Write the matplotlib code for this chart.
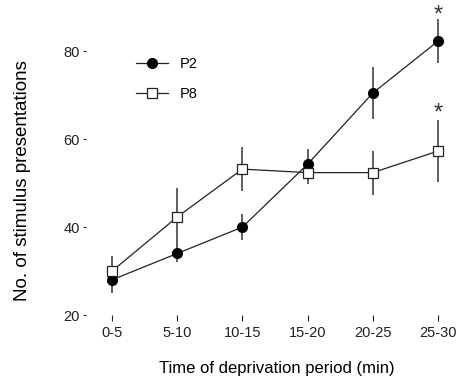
import numpy as np
import matplotlib.pyplot as plt

plt.rcParams['font.family'] = ['Liberation Sans', 'DejaVu Sans']

periods = ['0-5', '5-10', '10-15', '15-20', '20-25', '25-30']
p2_mean = [28, 34, 40, 54.3, 70.5, 82.3]
p2_err = [3, 2, 3, 3.5, 6, 5]
p8_mean = [30, 42.3, 53.2, 52.4, 52.4, 57.3]
p8_err = [3.5, 6.5, 5, 2.5, 5, 7]
star_y = [88.2, 65.9]  # asterisk positions over 25-30

x = np.arange(len(periods))

fig = plt.figure(figsize=(4.57, 3.83), dpi=100)
ax = fig.add_axes([0.188, 0.1775, 0.801, 0.809])

ax.errorbar(x, p2_mean, yerr=p2_err, fmt='none', ecolor='#444444', elinewidth=1.2, capsize=0, zorder=1)
ax.errorbar(x, p8_mean, yerr=p8_err, fmt='none', ecolor='#444444', elinewidth=1.2, capsize=0, zorder=1)
ax.plot(x, p2_mean, color='#222222', lw=0.9, marker='o', ms=7, mfc='black', mec='black', label='P2', zorder=3)
ax.plot(x, p8_mean, color='#222222', lw=0.9, marker='s', ms=6.5, mfc='white', mec='#222222', mew=0.9, label='P8', zorder=3)

for yy in star_y:
    ax.text(x[-1], yy, '*', ha='center', va='center', fontsize=17, color='#333333')

ax.set_xlim(-0.4, 5.215)
ax.set_ylim(20, 90.5)
ax.set_xticks(x)
ax.set_xticklabels(periods)
ax.set_yticks([20, 40, 60, 80])
for s in ax.spines.values():
    s.set_visible(False)
ax.tick_params(axis='both', direction='out', width=0.8, labelsize=10.5, colors='#222222')
ax.tick_params(axis='x', length=4, pad=4)
ax.tick_params(axis='y', length=2.5, pad=2)

ax.set_xlabel('Time of deprivation period (min)', fontsize=12)
ax.set_ylabel('No. of stimulus presentations', fontsize=13.5)
ax.xaxis.set_label_coords((277 - 86) / 366, -(361 - 315) / 310)
ax.yaxis.set_label_coords(-(86 - 31) / 366, (315 - 180) / 310)

ax.legend(loc='upper left', bbox_to_anchor=(0.1, 0.875), frameon=False, fontsize=10.5,
          handlelength=2.2, labelspacing=1.1)

fig.savefig('out.png', dpi=100)
